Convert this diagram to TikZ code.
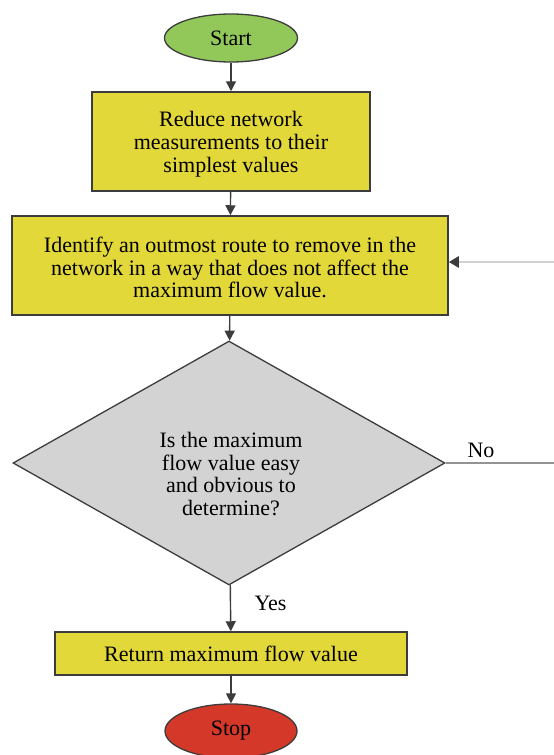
\documentclass[tikz,border=0pt]{standalone}
\usepackage{fontspec}
\setmainfont{Liberation Serif}
\usetikzlibrary{shapes.geometric,arrows.meta}
\definecolor{startgreen}{RGB}{146,200,90}
\definecolor{boxyellow}{RGB}{227,216,58}
\definecolor{diagrey}{RGB}{211,211,211}
\definecolor{stopred}{RGB}{212,56,40}
\definecolor{edgegrey}{RGB}{60,60,60}
\tikzset{
  every node/.style={font=\fontsize{22}{22.8}\selectfont},
  term/.style={ellipse, draw=edgegrey, line width=1.3pt, inner sep=0pt},
  procbox/.style={rectangle, draw=edgegrey, line width=1.5pt, fill=boxyellow, align=center, inner sep=0pt},
  decision/.style={diamond, draw=edgegrey, line width=1.3pt, fill=diagrey, inner sep=0pt},
  flow/.style={draw=edgegrey, line width=1.4pt, -{Triangle[length=10pt,width=10pt]}},
  loopback/.style={draw=gray!35, line width=2.5pt, -{Triangle[length=10pt,width=11pt,color=edgegrey]}},
  lbl/.style={font=\fontsize{22}{22.8}\selectfont}
}
\begin{document}
\begin{tikzpicture}[x=1pt,y=-1pt]
\useasboundingbox (0,0) rectangle (554,755);
\node[term, fill=startgreen, minimum width=133pt, minimum height=48pt] (start) at (231,38) {Start};
\node[procbox, minimum width=278pt, minimum height=99pt] (reduce) at (231,141.5) {};
\node[align=center] (reducetext) at (231,144) {Reduce network\\measurements to their\\simplest values};
\node[procbox, minimum width=436pt, minimum height=99pt] (identify) at (230,265.5) {};
\node[align=center] (identifytext) at (230,267.5) {Identify an outmost route to remove in the\\network in a way that does not affect the\\maximum flow value.};
\node[decision, minimum width=432pt, minimum height=244pt] (check) at (229,463) {};
\node[align=center] (checktext) at (231,474) {Is the maximum\\flow value easy\\and obvious to\\determine?};
\node[procbox, minimum width=352pt, minimum height=43pt] (ret) at (231,653.5)
  {Return maximum flow value};
\node[term, fill=stopred, minimum width=132pt, minimum height=54pt] (stop) at (231,731) {Stop};
\coordinate (noend) at (554,463);
\coordinate (backin) at (554,262);
\draw[flow] (start) -- (reduce);
\draw[flow] (reduce) -- (identify);
\draw[flow] (identify) -- (check);
\draw[flow] (check) -- (ret);
\draw[flow] (ret) -- (stop);
\draw[draw=gray!85, line width=1.5pt] (check.east) -- (noend);
\draw[loopback] (backin) -- (identify.east |- backin);
\node[lbl, anchor=west] (nolbl) at (464,450) {No};
\node[lbl, anchor=west] (yeslbl) at (251,603) {Yes};
\end{tikzpicture}
\end{document}
